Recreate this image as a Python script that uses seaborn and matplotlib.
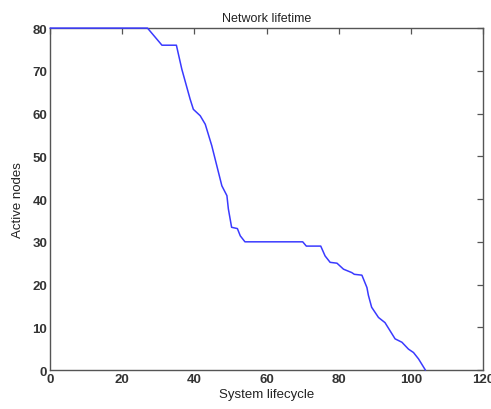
import pandas as pd
import matplotlib
matplotlib.use("Agg")
import matplotlib.pyplot as plt
import seaborn as sns

# values
lifecycle = [0, 27, 31, 35, 36.5, 38.8, 39.7, 41.6, 43, 44.8, 46.2, 47.6, 49, 49.4,
             50.3, 51.9, 52.7, 54, 70, 71, 75, 76.2, 77.6, 79.5, 81.3, 83.6, 84.3,
             86.4, 87.8, 88.2, 89.1, 91, 92.8, 94.2, 95.6, 97.5, 99.3, 100.7, 102.1, 104]
active_nodes = [80, 80, 76, 76, 70.4, 63.4, 61, 59.5, 57.5, 52.5, 47.8, 43.1, 40.8, 37.7,
                33.4, 33.1, 31.4, 30, 30, 29, 29, 26.7, 25.2, 25, 23.6, 22.8, 22.4,
                22.2, 19.3, 17.5, 14.7, 12.3, 11.1, 9.2, 7.3, 6.5, 4.9, 4.1, 2.6, 0]
x_ticks = [0, 20, 40, 60, 80, 100, 120]
y_ticks = [0, 10, 20, 30, 40, 50, 60, 70, 80]

df = pd.DataFrame({"System lifecycle": lifecycle, "Active nodes": active_nodes})

sns.set_style("white")
plt.rcParams["font.family"] = ["Liberation Sans", "DejaVu Sans"]

fig = plt.figure(figsize=(4.91, 4.10), dpi=100)
ax = fig.add_axes([0.102, 0.095, 0.882, 0.834])

sns.lineplot(data=df, x="System lifecycle", y="Active nodes", sort=False,
             estimator=None, color="#3a3aff", linewidth=1.1, ax=ax)
# line sits on top of the frame at y=80, like the MATLAB original
for ln in ax.lines:
    ln.set_clip_on(False)
    ln.set_zorder(5)

ax.set_xlim(0, 120)
ax.set_ylim(0, 80)
ax.set_xticks(x_ticks)
ax.set_yticks(y_ticks)
ax.set_title("Network lifetime", fontsize=9, color="#222222", pad=5)
ax.set_xlabel("System lifecycle", fontsize=9.5, color="#222222", labelpad=2)
ax.set_ylabel("Active nodes", fontsize=9.5, color="#222222", labelpad=6)

for s in ax.spines.values():
    s.set_visible(True)
    s.set_color("#555555")
    s.set_linewidth(1.0)
ax.tick_params(direction="in", length=4, width=0.9, color="#555555",
               top=True, right=True, labelsize=9.5, labelcolor="#333333", pad=2)
for lab in ax.get_xticklabels() + ax.get_yticklabels():
    lab.set_fontweight("bold")

fig.savefig("out.png", dpi=100)
